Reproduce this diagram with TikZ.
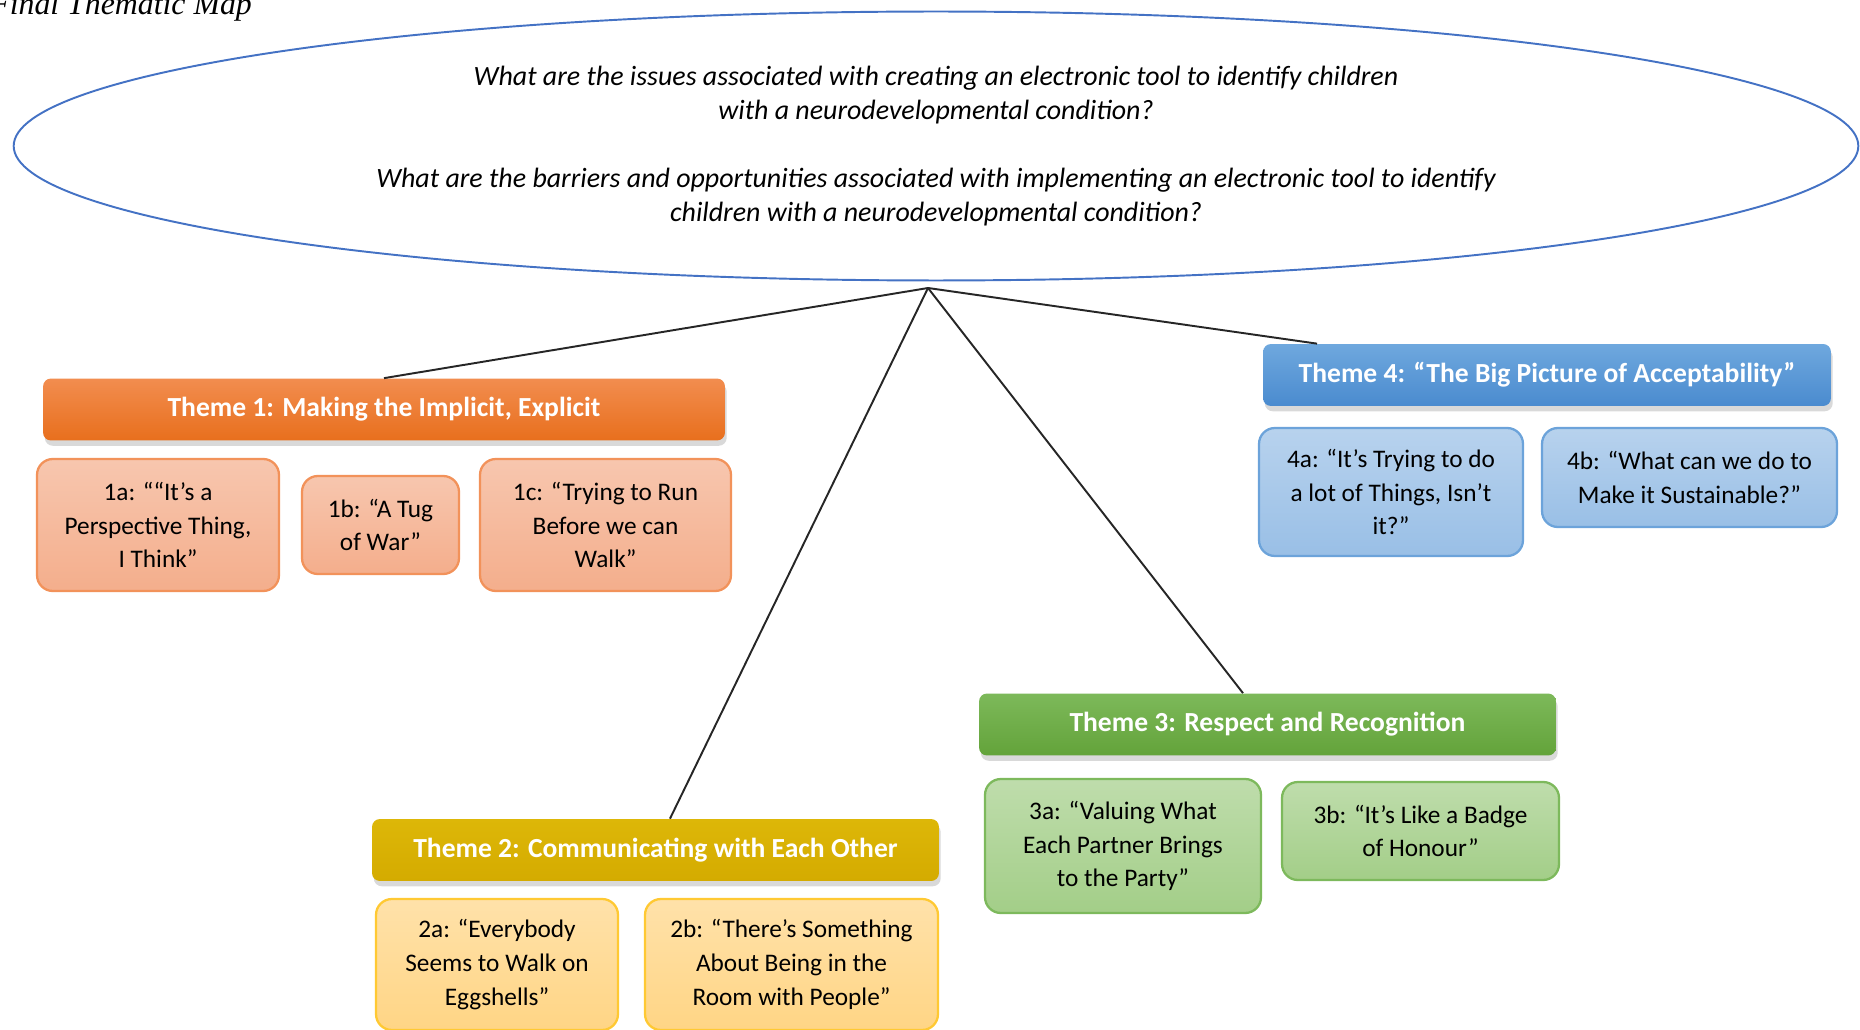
\documentclass[tikz,border=0pt]{standalone}
\usepackage{fontspec}
\setmainfont{Carlito}
\newfontfamily\titlefont{Liberation Serif}
\usepackage{xcolor}
\usepackage{tikz}
\usetikzlibrary{shapes.geometric, shadows}

\newcommand{\themeNode}[6]{
	\node[themebar, top color = #2Top, bottom color = #2Bot, minimum width = #5] (#1) at (#3, #4) {#6};
}
\newcommand{\subNode}[7]{
	\node[subbox, draw = #2Line, top color = #2Fill!70!white, bottom color = #2Fill, minimum width = #5, minimum height = #6] (#1) at (#3, #4) {#7};
}

\definecolor{questionBlue}{HTML}{4472C4}
\definecolor{oneTop}{HTML}{F28D4F}
\definecolor{oneBot}{HTML}{E86F1D}
\definecolor{oneFill}{HTML}{F4AE8C}
\definecolor{oneLine}{HTML}{F2925A}
\definecolor{twoTop}{HTML}{DDB708}
\definecolor{twoBot}{HTML}{D4AB00}
\definecolor{twoFill}{HTML}{FFD585}
\definecolor{twoLine}{HTML}{FFC933}
\definecolor{threeTop}{HTML}{7DB95A}
\definecolor{threeBot}{HTML}{63A33A}
\definecolor{threeFill}{HTML}{A3CE88}
\definecolor{threeLine}{HTML}{7DB95C}
\definecolor{fourTop}{HTML}{6FA8DE}
\definecolor{fourBot}{HTML}{4A8BCF}
\definecolor{fourFill}{HTML}{99BFE6}
\definecolor{fourLine}{HTML}{6CA3DA}

\tikzset{
	question/.style = {ellipse, draw = questionBlue, line width = 1.1pt, inner sep = 0pt, align = center, font = \itshape\fontsize{15.9}{19}\selectfont},
	themebar/.style = {rounded corners = 4.5pt, text = white, inner sep = 0pt, minimum height = 1.24cm, font = \bfseries\fontsize{15.7}{19}\selectfont, drop shadow = {shadow xshift = 1pt, shadow yshift = -3pt, opacity = 0.3}},
	subbox/.style = {rounded corners = 9pt, line width = 1.3pt, inner sep = 0pt, align = center, font = \fontsize{14.4}{19.2}\selectfont},
	link/.style = {line width = 1.1pt, black!85},
}

\begin{document}
\begin{tikzpicture}[x = 0.02cm, y = -0.02cm]%
		\useasboundingbox (0, 0) rectangle (1860, 1030);
		\clip (0, 0) rectangle (1860, 1030);

		\node[anchor = base west, inner sep = 0pt, font = \titlefont\itshape\fontsize{18.1}{22}\selectfont] (title) at (-10, 15) {Final Thematic Map};

		\node[question, minimum width = 36.9cm, minimum height = 5.38cm] (q) at (936, 146) {What are the issues associated with creating an electronic tool to identify children\\with a neurodevelopmental condition?\\[20pt]What are the barriers and opportunities associated with implementing an electronic tool to identify\\children with a neurodevelopmental condition?};
		\coordinate (hub) at (928, 288);

		% theme 1
		\themeNode{t1}{one}{384}{409.5}{13.64cm}{Theme 1: Making the Implicit, Explicit}
		\subNode{s1a}{one}{158}{525}{4.84cm}{2.64cm}{1a: ““It’s a\\Perspective Thing,\\I Think”}
		\subNode{s1b}{one}{380.5}{525}{3.14cm}{1.96cm}{1b: “A Tug\\of War”}
		\subNode{s1c}{one}{605.5}{525}{5.02cm}{2.64cm}{1c: “Trying to Run\\Before we can\\Walk”}

		% theme 2
		\themeNode{t2}{two}{655.5}{850}{11.34cm}{Theme 2: Communicating with Each Other}
		\subNode{s2a}{two}{497}{964.5}{4.84cm}{2.62cm}{2a: “Everybody\\Seems to Walk on\\Eggshells”}
		\subNode{s2b}{two}{791.5}{964.5}{5.86cm}{2.62cm}{2b: “There’s Something\\About Being in the\\Room with People”}

		% theme 3
		\themeNode{t3}{three}{1267.5}{724.5}{11.54cm}{Theme 3: Respect and Recognition}
		\subNode{s3a}{three}{1123}{846}{5.52cm}{2.68cm}{3a: “Valuing What\\Each Partner Brings\\to the Party”}
		\subNode{s3b}{three}{1420.5}{831}{5.54cm}{1.96cm}{3b: “It’s Like a Badge\\of Honour”}

		% theme 4
		\themeNode{t4}{four}{1547}{375}{11.36cm}{Theme 4: “The Big Picture of Acceptability”}
		\subNode{s4a}{four}{1391}{492}{5.28cm}{2.56cm}{4a: “It’s Trying to do\\a lot of Things, Isn’t\\it?”}
		\subNode{s4b}{four}{1689.5}{477.5}{5.9cm}{1.98cm}{4b: “What can we do to\\Make it Sustainable?”}

		% links
		\draw[link] (hub) -- (t1.north);
		\draw[link] (hub) -- ([xshift = 0.29cm]t2.north);
		\draw[link] (hub) -- ([xshift = -0.49cm]t3.north);
		\draw[link] (hub) -- ([xshift = -4.6cm]t4.north);
	\end{tikzpicture}
\end{document}
